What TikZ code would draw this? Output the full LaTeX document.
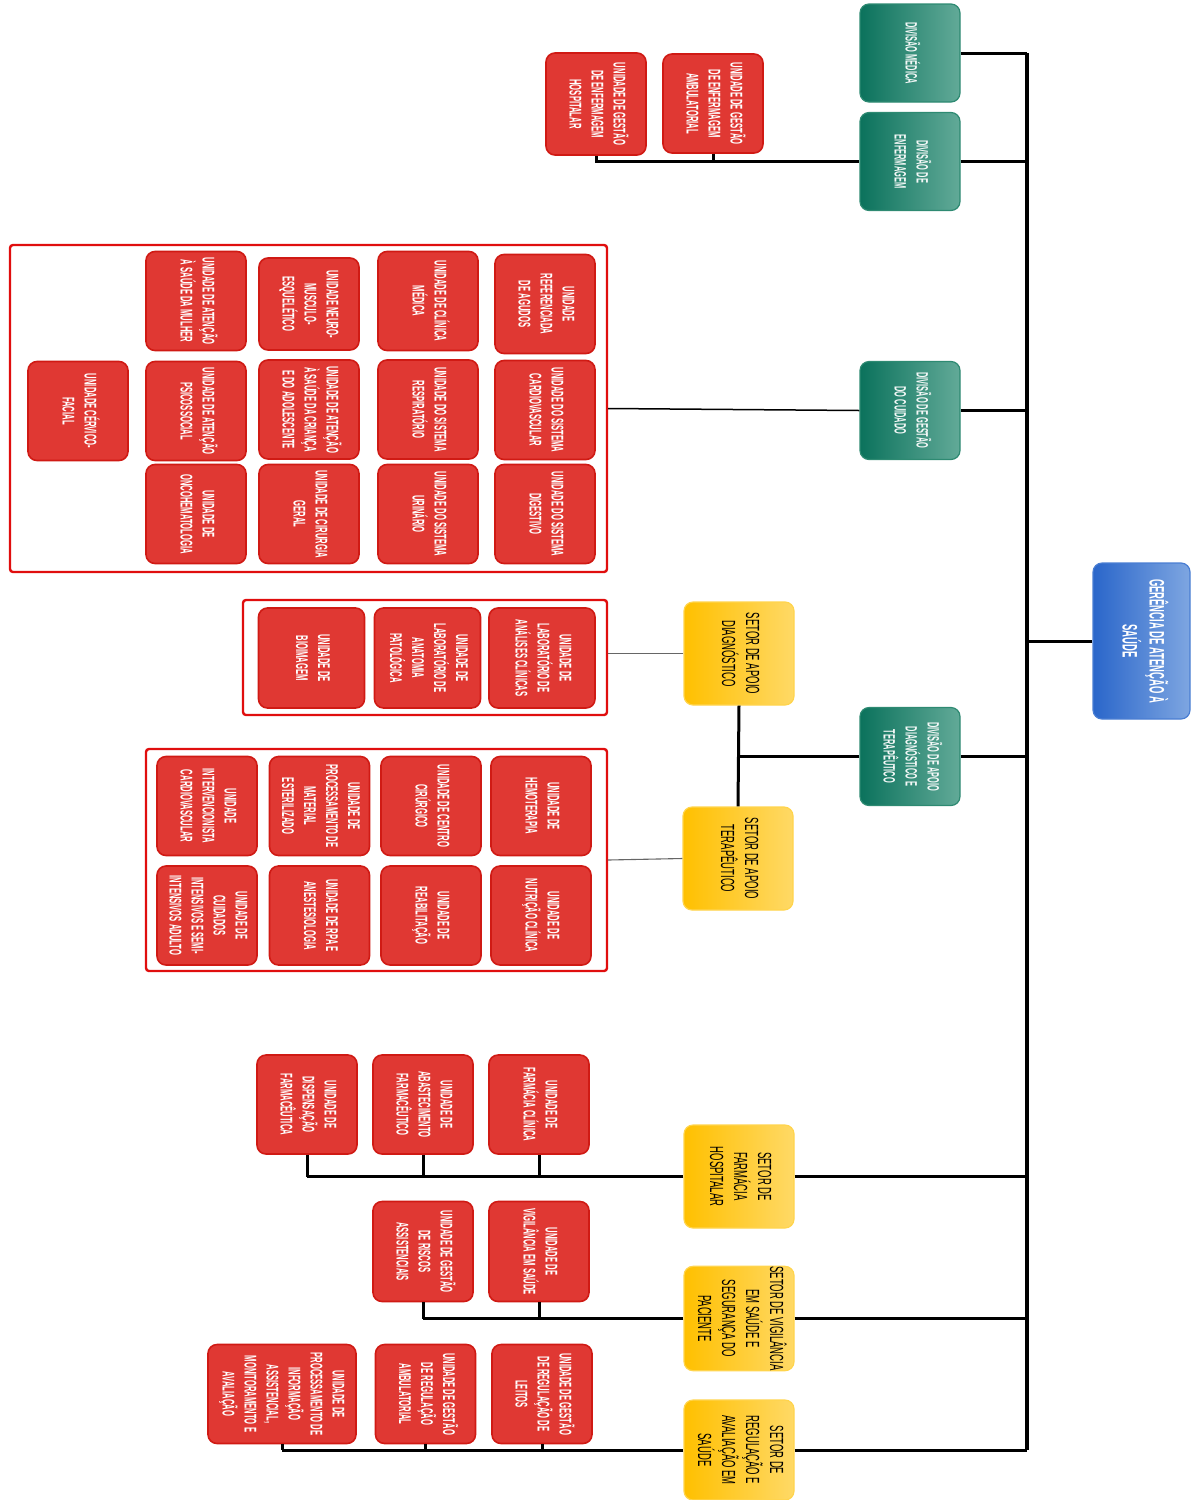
\documentclass[tikz,border=0pt]{standalone}
\usepackage{fontspec}
\usepackage{graphicx}
\newfontfamily\condfont[FakeStretch=0.5]{Liberation Sans}
\newfontfamily\condboldfont[FakeStretch=0.45, UprightFont={* Bold}]{Liberation Sans}
\usetikzlibrary{positioning}
\definecolor{unitred}{HTML}{E03833}
\definecolor{unitedge}{HTML}{D01A14}
\definecolor{framered}{HTML}{E00E0E}
\definecolor{divdark}{HTML}{0B725C}
\definecolor{divlight}{HTML}{62AA98}
\definecolor{divedge}{HTML}{2E8A72}
\definecolor{setordark}{HTML}{FFC000}
\definecolor{setorlight}{HTML}{FFD966}
\definecolor{setoredge}{HTML}{FFD44D}
\definecolor{topdark}{HTML}{2A66CA}
\definecolor{toplight}{HTML}{7EA6E1}
\definecolor{topedge}{HTML}{4A7ED3}
\newcommand{\vtext}[1]{\rotatebox{-90}{\begin{tabular}{@{}c@{}}#1\end{tabular}}}

\begin{document}
\begin{tikzpicture}[x=1pt,y=-1pt,
    unitbox/.style={rectangle, rounded corners=9, fill=unitred, draw=unitedge, line width=1.6,
      minimum width=100, minimum height=99, inner sep=0, text=white,
      font=\condboldfont\fontsize{17}{22}\selectfont},
    divbox/.style={rectangle, rounded corners=9, left color=divdark, right color=divlight, draw=divedge,
      line width=1.2, minimum width=100, minimum height=98, inner sep=0, text=white!92!divlight,
      font=\condboldfont\fontsize{16.5}{22}\selectfont},
    setorbox/.style={rectangle, rounded corners=9, left color=setordark, right color=setorlight, draw=setoredge,
      line width=1.2, minimum width=110, minimum height=103, inner sep=0, text=black,
      font=\condfont\fontsize{19}{24}\selectfont},
    topbox/.style={rectangle, rounded corners=9, left color=topdark, right color=toplight, draw=topedge,
      line width=1.2, minimum width=97, minimum height=156, inner sep=0, text=white,
      font=\condboldfont\fontsize{21}{27}\selectfont},
    framebox/.style={rectangle, rounded corners=3, draw=framered, fill=white, line width=2.4, inner sep=0},
    conn/.style={draw=black, line width=3},
    busline/.style={draw=black, line width=3.6},
    thinline/.style={draw=black, line width=1.5},
    grayline/.style={draw=black!60, line width=1.1}]
  \useasboundingbox (0,0) rectangle (1199,1500);

  % frames round the unit groups
  \node[framebox, minimum width=597, minimum height=327] (cuidframe) at (308.5,408.5) {};
  \node[framebox, minimum width=364, minimum height=115] (diagframe) at (425,657.5) {};
  \node[framebox, minimum width=461, minimum height=222] (terapframe) at (376.5,860) {};

  % top
  \node[topbox] (gerencia) at (1141.5,641) {\vtext{GERÊNCIA DE ATENÇÃO À\\SAÚDE}};

  % divisions
  \node[divbox] (medica) at (910,53) {\vtext{DIVISÃO MÉDICA}};
  \node[divbox] (enferm) at (910,161.5) {\vtext{DIVISÃO DE\\ENFERMAGEM}};
  \node[divbox] (cuidado) at (910,410.5) {\vtext{DIVISÃO DE GESTÃO\\DO CUIDADO}};
  \node[divbox] (apoiodt) at (910,756.5) {\vtext{DIVISÃO DE APOIO\\DIAGNÓSTICO E\\TERAPÊUTICO}};

  % setores
  \node[setorbox] (diag) at (739,653.5) {\vtext{SETOR DE APOIO\\DIAGNÓSTICO}};
  \node[setorbox] (terap) at (738,858.5) {\vtext{SETOR DE APOIO\\TERAPÊUTICO}};
  \node[setorbox] (farm) at (739,1176.5) {\vtext{SETOR DE\\FARMÁCIA\\HOSPITALAR}};
  \node[setorbox] (vigil) at (739,1318.5) {\vtext{SETOR DE VIGILÂNCIA\\EM SAÚDE E\\SEGURANÇA DO\\PACIENTE}};
  \node[setorbox, minimum height=100] (regul) at (739,1450) {\vtext{SETOR DE\\REGULAÇÃO E\\AVALIAÇÃO EM\\SAÚDE}};

  % enfermagem units
  \node[unitbox, minimum height=102] (enfhosp) at (596,104) {\vtext{UNIDADE DE GESTÃO\\DE ENFERMAGEM\\HOSPITALAR}};
  \node[unitbox] (enfamb) at (713,103.5) {\vtext{UNIDADE DE GESTÃO\\DE ENFERMAGEM\\AMBULATORIAL}};

  % gestao do cuidado units
  \node[unitbox] (agudos) at (545,304) {\vtext{UNIDADE\\REFERENCIADA\\DE AGUDOS}};
  \node[unitbox] (cardio) at (545,410) {\vtext{UNIDADE DO SISTEMA\\CARDIOVASCULAR}};
  \node[unitbox] (digest) at (545,514) {\vtext{UNIDADE DO SISTEMA\\DIGESTIVO}};
  \node[unitbox] (clinica) at (428,301) {\vtext{UNIDADE DE CLÍNICA\\MÉDICA}};
  \node[unitbox] (resp) at (428,409.5) {\vtext{UNIDADE DO SISTEMA\\RESPIRATÓRIO}};
  \node[unitbox] (urin) at (428,514) {\vtext{UNIDADE DO SISTEMA\\URINÁRIO}};
  \node[unitbox, minimum height=92] (neuro) at (309,304) {\vtext{UNIDADE NEURO-\\MUSCULO-\\ESQUELÉTICO}};
  \node[unitbox] (crianca) at (309,409.5) {\vtext{UNIDADE DE ATENÇÃO\\À SAÚDE DA CRIANÇA\\E DO ADOLESCENTE}};
  \node[unitbox] (cirurgia) at (309,514) {\vtext{UNIDADE DE CIRURGIA\\GERAL}};
  \node[unitbox] (mulher) at (196,301) {\vtext{UNIDADE DE ATENÇÃO\\À SAÚDE DA MULHER}};
  \node[unitbox] (psico) at (196,411) {\vtext{UNIDADE DE ATENÇÃO\\PSICOSSOCIAL}};
  \node[unitbox] (onco) at (196,514) {\vtext{UNIDADE DE\\ONCOHEMATOLOGIA}};
  \node[unitbox] (cervico) at (78,411) {\vtext{UNIDADE CÉRVICO-\\FACIAL}};

  % apoio diagnostico units
  \node[unitbox, minimum width=106, minimum height=100] (analises) at (542,658) {\vtext{UNIDADE DE\\LABORATÓRIO DE\\ANÁLISES CLÍNICAS}};
  \node[unitbox, minimum width=106, minimum height=100] (anatomia) at (427.5,658) {\vtext{UNIDADE DE\\LABORATÓRIO DE\\ANATOMIA\\PATOLÓGICA}};
  \node[unitbox, minimum width=106, minimum height=100] (bioimagem) at (311.5,658) {\vtext{UNIDADE DE\\BIOIMAGEM}};

  % apoio terapeutico units
  \node[unitbox] (hemo) at (541,806) {\vtext{UNIDADE DE\\HEMOTERAPIA}};
  \node[unitbox] (nutri) at (541,915.5) {\vtext{UNIDADE DE\\NUTRIÇÃO CLÍNICA}};
  \node[unitbox] (centro) at (431,806) {\vtext{UNIDADE DE CENTRO\\CIRÚRGICO}};
  \node[unitbox] (reab) at (431,915.5) {\vtext{UNIDADE DE\\REABILITAÇÃO}};
  \node[unitbox] (cme) at (319.5,806) {\vtext{UNIDADE DE\\PROCESSAMENTO DE\\MATERIAL\\ESTERILIZADO}};
  \node[unitbox] (rpa) at (319.5,915.5) {\vtext{UNIDADE DE RPA E\\ANESTESIOLOGIA}};
  \node[unitbox] (interv) at (207,806) {\vtext{UNIDADE\\INTERVENCIONISTA\\CARDIOVASCULAR}};
  \node[unitbox] (uti) at (207,915.5) {\vtext{UNIDADE DE\\CUIDADOS\\INTENSIVOS E SEMI-\\INTENSIVOS ADULTO}};

  % farmacia units
  \node[unitbox] (farmclin) at (539,1104.5) {\vtext{UNIDADE DE\\FARMÁCIA CLÍNICA}};
  \node[unitbox] (abast) at (423,1104.5) {\vtext{UNIDADE DE\\ABASTECIMENTO\\FARMACÊUTICO}};
  \node[unitbox] (dispens) at (307,1104.5) {\vtext{UNIDADE DE\\DISPENSAÇÃO\\FARMACÊUTICA}};

  % vigilancia units
  \node[unitbox, minimum height=100] (vigsaude) at (539,1251.5) {\vtext{UNIDADE DE\\VIGILÂNCIA EM SAÚDE}};
  \node[unitbox, minimum height=100] (riscos) at (423,1251.5) {\vtext{UNIDADE DE GESTÃO\\DE RISCOS\\ASSISTENCIAIS}};

  % regulacao units
  \node[unitbox] (leitos) at (542,1394) {\vtext{UNIDADE DE GESTÃO\\DE REGULAÇÃO DE\\LEITOS}};
  \node[unitbox] (regamb) at (425.5,1394) {\vtext{UNIDADE DE GESTÃO\\DE REGULAÇÃO\\AMBULATORIAL}};
  \node[unitbox, minimum width=148] (info) at (282,1394) {\vtext{UNIDADE DE\\PROCESSAMENTO DE\\INFORMAÇÃO\\ASSISTENCIAL,\\MONITORAMENTO E\\AVALIAÇÃO}};

  % main bus
  \coordinate (bus) at (1027,641);
  \draw[conn] (gerencia.west) -- (bus);
  \draw[busline] (bus |- medica.east) -- (bus |- regul.east);
  \foreach \d in {medica,enferm,cuidado,apoiodt,farm,vigil,regul}
    \draw[conn] (\d.east) -- (bus |- \d.east);

  % divisions to setores and frames
  \draw[conn] (apoiodt.west) -- (apoiodt.west -| diag.south);
  \draw[conn] (diag.south) -- (terap.north);
  \draw[thinline] (cuidado.west) -- (cuidframe.east);
  \draw[grayline] (diag.west) -- (diag.west -| diagframe.east);
  \draw[grayline] (terap.west) -- (terapframe.east);

  % enfermagem
  \draw[conn] (enfhosp.south) |- (enferm.west);
  \draw[conn] (enfamb.south) -- (enfamb.south |- enferm.west);

  % setores to units
  \draw[conn] (farm.west) -- (farm.west -| dispens.south);
  \foreach \u in {farmclin,abast,dispens}
    \draw[conn] (\u.south) -- (\u.south |- farm.west);
  \draw[conn] (vigil.west) -- (vigil.west -| riscos.south);
  \foreach \u in {vigsaude,riscos}
    \draw[conn] (\u.south) -- (\u.south |- vigil.west);
  \draw[conn] (regul.west) -- (regul.west -| info.south);
  \foreach \u in {leitos,regamb,info}
    \draw[conn] (\u.south) -- (\u.south |- regul.west);
\end{tikzpicture}
\end{document}
